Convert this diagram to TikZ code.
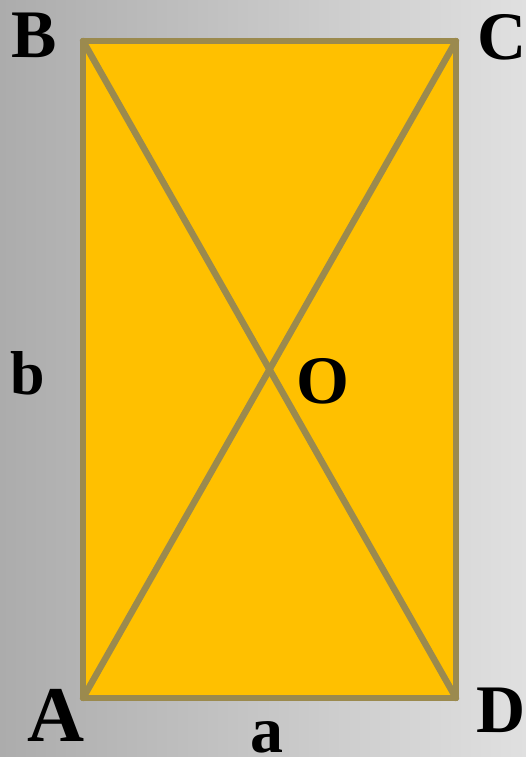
\documentclass[tikz,border=0pt]{standalone}
\usepackage{fontspec}
\setmainfont{Liberation Serif}
\definecolor{bgl}{HTML}{ACACAC}
\definecolor{bgr}{HTML}{E0E0E0}
\definecolor{rfill}{HTML}{FFC000}
\definecolor{rline}{HTML}{9B8A4E}
\tikzset{
  lbl/.style={inner sep=0pt, font=\bfseries\fontsize{68}{68}\selectfont, text=black},
  edge/.style={draw=rline, line width=6.5pt, line join=round, line cap=round}
}
\begin{document}
\begin{tikzpicture}[x=1pt,y=1pt]
\shade[left color=bgl, right color=bgr] (0,0) rectangle (526,757);
\useasboundingbox (0,0) rectangle (526,757);
\coordinate (A) at (83,59);
\coordinate (B) at (83,716);
\coordinate (C) at (456,716);
\coordinate (D) at (456,59);
\fill[rfill] (A) rectangle (C);
\draw[edge] (A) -- (B) -- (C) -- (D) -- cycle;
\draw[edge] (A) -- (C);
\draw[edge] (B) -- (D);
\node[lbl] (lB) at (34.5,722) {B};
\node[lbl] (lC) at (502,720) {C};
\node[lbl, font=\bfseries\fontsize{79}{79}\selectfont] (lA) at (56,42) {A};
\node[lbl] (lD) at (501,47) {D};
\node[lbl] (lO) at (323,376) {O};
\node[lbl, font=\bfseries\fontsize{62}{62}\selectfont] (lb) at (27.5,383.5) {b};
\node[lbl, font=\bfseries\fontsize{66}{66}\selectfont] (la) at (267,20) {a};
\end{tikzpicture}
\end{document}
